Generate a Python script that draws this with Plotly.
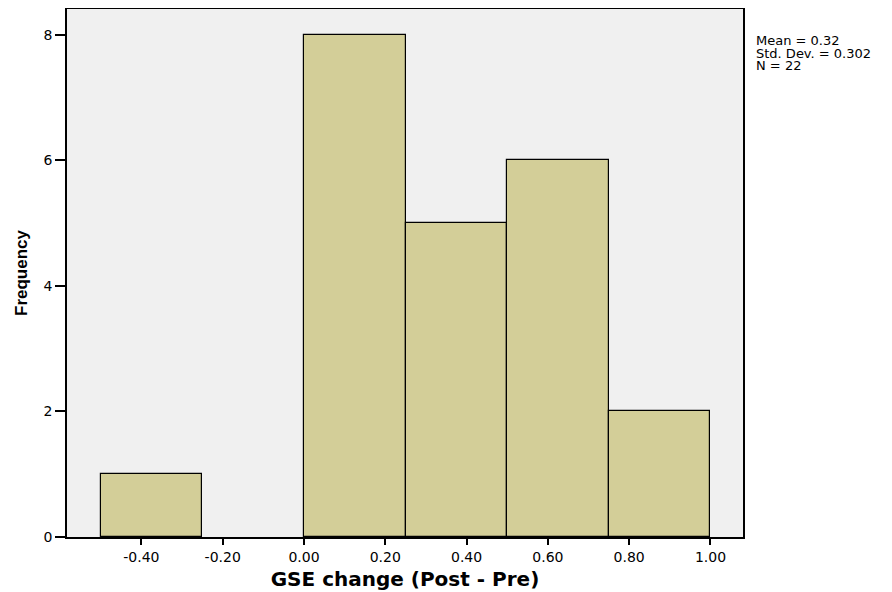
import plotly.graph_objects as go

bin_starts = [-0.50, -0.25, 0.00, 0.25, 0.50, 0.75]
bin_width = 0.25
counts = [1, 0, 8, 5, 6, 2]
x_ticks = [-0.40, -0.20, 0.00, 0.20, 0.40, 0.60, 0.80, 1.00]
y_ticks = [0, 2, 4, 6, 8]
stats_text = ["Mean = 0.32", "Std. Dev. = 0.302", "N = 22"]

centers = [s + bin_width / 2 for s in bin_starts]
bar_heights = [c if c > 0 else None for c in counts]

# page body adds an 8px offset, so the figure is sized 8px smaller
W, H = 884, 584
L, R, T, B = 59, 149, 1, 55
plot_w, plot_h = W - L - R, H - T - B

fig = go.Figure()
fig.add_trace(go.Bar(
    x=centers, y=bar_heights, width=[bin_width] * len(counts),
    marker=dict(color="#D3CE98", line=dict(color="black", width=1.2)),
    hoverinfo="x+y",
))

font_family = "DejaVu Sans, Liberation Sans, Arial, sans-serif"
annotations = []
for i, line in enumerate(stats_text):
    yc = 32 + 13 * i  # figure-pixel centre of each line
    annotations.append(dict(
        xref="paper", yref="paper", x=(746 - L) / plot_w, y=1 - (yc - T) / plot_h,
        xanchor="left", yanchor="middle", align="left", showarrow=False,
        text=line, font=dict(size=13),
    ))

fig.update_layout(
    width=W, height=H,
    margin=dict(l=L, r=R, t=T, b=B, autoexpand=False),
    paper_bgcolor="white", plot_bgcolor="#F0F0F0",
    showlegend=False, bargap=0,
    font=dict(family=font_family, size=14, color="black"),
    xaxis=dict(
        range=[-0.583, 1.080], tickvals=x_ticks,
        ticktext=[f"{v:.2f}" for v in x_ticks],
        ticks="outside", ticklen=6, tickwidth=1.5, tickcolor="black",
        showline=True, linecolor="black", linewidth=1.5, mirror=True,
        showgrid=False, zeroline=False, automargin=False,
        title=dict(text="<b>GSE change (Post - Pre)</b>", font=dict(size=20), standoff=8),
    ),
    yaxis=dict(
        range=[0, 8.414], tickvals=y_ticks,
        ticks="outside", ticklen=10, tickwidth=1.5, tickcolor="black",
        showline=True, linecolor="black", linewidth=1.5, mirror=True,
        showgrid=False, zeroline=False, automargin=False,
        title=dict(text="<b>Frequency</b>",
                   font=dict(size=17, family="Liberation Sans, Arial, sans-serif"),
                   standoff=12),
    ),
    annotations=annotations,
)

fig.write_html("out.html")
